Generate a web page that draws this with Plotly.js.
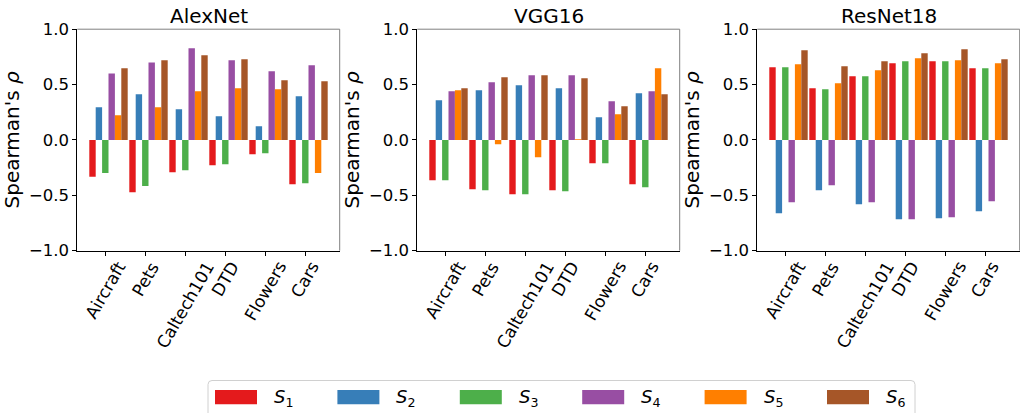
<!DOCTYPE html>
<html>
<head>
<meta charset="utf-8">
<script src="https://cdn.plot.ly/plotly-3.0.1.min.js"></script>
<style>html,body{margin:0;padding:0;background:#fff;}#chart{width:1020px;height:413px;}</style>
</head>
<body>
<div id="chart"></div>
<script>
// ---- data ----
const categories = ['Aircraft', 'Pets', 'Caltech101', 'DTD', 'Flowers', 'Cars'];
const seriesNames = ['S1', 'S2', 'S3', 'S4', 'S5', 'S6'];
const panelTitles = ['AlexNet', 'VGG16', 'ResNet18'];

const alexS1 = [-0.334, -0.473, -0.292, -0.229, -0.130, -0.400];
const alexS2 = [0.295, 0.413, 0.277, 0.214, 0.123, 0.395];
const alexS3 = [-0.300, -0.416, -0.274, -0.220, -0.120, -0.392];
const alexS4 = [0.600, 0.700, 0.828, 0.720, 0.620, 0.675];
const alexS5 = [0.223, 0.295, 0.440, 0.467, 0.458, -0.300];
const alexS6 = [0.648, 0.720, 0.765, 0.729, 0.539, 0.530];

const vggS1 = [-0.364, -0.446, -0.491, -0.455, -0.210, -0.400];
const vggS2 = [0.358, 0.449, 0.494, 0.467, 0.205, 0.422];
const vggS3 = [-0.364, -0.455, -0.491, -0.464, -0.210, -0.428];
const vggS4 = [0.440, 0.521, 0.584, 0.584, 0.349, 0.440];
const vggS5 = [0.449, -0.039, -0.157, 0.006, 0.232, 0.648];
const vggS6 = [0.467, 0.566, 0.584, 0.557, 0.304, 0.413];

const resS1 = [0.657, 0.467, 0.575, 0.693, 0.711, 0.648];
const resS2 = [-0.663, -0.455, -0.581, -0.717, -0.708, -0.645];
const resS3 = [0.657, 0.458, 0.575, 0.711, 0.711, 0.648];
const resS4 = [-0.563, -0.410, -0.563, -0.717, -0.699, -0.554];
const resS5 = [0.684, 0.512, 0.630, 0.738, 0.720, 0.693];
const resS6 = [0.810, 0.666, 0.711, 0.783, 0.819, 0.729];

const yTickVals = [-1.0, -0.5, 0.0, 0.5, 1.0];

// ---- style ----
const colors = ['#e41a1c', '#377eb8', '#4daf4a', '#984ea3', '#ff7f00', '#a65628'];
const FONT = 'DejaVu Sans';
const W = 1020, H = 413;
const px = v => v / W;
const py = v => 1 - v / H;
const barW = 0.16;
const panelLeft = [77.3, 417.3, 757.3];
const panelWidth = 262.4;
const plotTop = 29.2, plotBottom = 250.6;

const panels = [
  [alexS1, alexS2, alexS3, alexS4, alexS5, alexS6],
  [vggS1, vggS2, vggS3, vggS4, vggS5, vggS6],
  [resS1, resS2, resS3, resS4, resS5, resS6]
];

const traces = [];
const layout = {
  width: W, height: H,
  margin: {l: 0, r: 0, t: 0, b: 0},
  paper_bgcolor: '#fff', plot_bgcolor: '#fff',
  showlegend: false,
  font: {family: FONT, size: 16, color: '#000'},
  annotations: [], shapes: []
};

panels.forEach((series, p) => {
  const sfx = p === 0 ? '' : String(p + 1);
  series.forEach((vals, j) => {
    traces.push({
      type: 'bar', x: categories, y: vals, name: seriesNames[j],
      xaxis: 'x' + sfx, yaxis: 'y' + sfx,
      width: barW, offset: (j - 2.5) * barW,
      marker: {color: colors[j], line: {width: 0}},
      hoverinfo: 'x+y+name'
    });
  });
  const x0 = px(panelLeft[p]), x1 = px(panelLeft[p] + panelWidth);
  layout['xaxis' + sfx] = {
    domain: [x0, x1], anchor: 'y' + sfx,
    type: 'category', range: [-0.70, 5.86],
    showgrid: false, zeroline: false,
    showline: true, linecolor: '#000', linewidth: 1,
    ticks: 'outside', ticklen: 4, tickwidth: 1, tickcolor: '#000',
    showticklabels: false, fixedrange: true
  };
  layout['yaxis' + sfx] = {
    domain: [py(plotBottom), py(plotTop)], anchor: 'x' + sfx,
    range: [-1, 1], tickvals: yTickVals, tickformat: '.1f',
    showgrid: false, zeroline: false,
    showline: true, linecolor: '#000', linewidth: 1,
    ticks: 'outside', ticklen: 4, tickwidth: 1, tickcolor: '#000',
    tickfont: {family: FONT, size: 16.5, color: '#000'},
    title: {text: "Spearman's <i>ρ</i>", font: {family: FONT, size: 20, color: '#000'}, standoff: 3},
    fixedrange: true
  };
  // top/right spines
  layout.shapes.push({type: 'line', xref: 'paper', yref: 'paper', x0: x0, x1: x1, y0: py(plotTop), y1: py(plotTop), line: {color: '#808080', width: 1}});
  layout.shapes.push({type: 'line', xref: 'paper', yref: 'paper', x0: x1, x1: x1, y0: py(plotBottom), y1: py(plotTop), line: {color: '#808080', width: 1}});
  // title
  layout.annotations.push({
    xref: 'paper', yref: 'paper', x: (x0 + x1) / 2, y: py(plotTop + 1), xanchor: 'center', yanchor: 'bottom',
    text: panelTitles[p], showarrow: false, font: {family: FONT, size: 20, color: '#000'}
  });
  // rotated category labels centred below ticks
  categories.forEach(c => {
    layout.annotations.push({
      xref: 'x' + sfx, yref: 'paper', x: c, y: py(plotBottom + 6),
      xanchor: 'center', yanchor: 'top', textangle: -60,
      text: c, showarrow: false, borderpad: 0,
      font: {family: FONT, size: 17, color: '#000'}
    });
  });
});

// ---- legend (drawn manually to match the wide patches) ----
const legL = 208, legR = 915, legT = 380.5, legB = 420, rr = 4;
layout.shapes.push({
  type: 'path', xref: 'paper', yref: 'paper',
  path: `M ${px(legL + rr)} ${py(legT)} L ${px(legR - rr)} ${py(legT)} Q ${px(legR)} ${py(legT)} ${px(legR)} ${py(legT + rr)} L ${px(legR)} ${py(legB)} L ${px(legL)} ${py(legB)} L ${px(legL)} ${py(legT + rr)} Q ${px(legL)} ${py(legT)} ${px(legL + rr)} ${py(legT)} Z`,
  line: {color: '#d0d0d0', width: 1}, fillcolor: 'rgba(255,255,255,0.8)'
});
seriesNames.forEach((nm, j) => {
  const xl = 215 + 122.4 * j;
  layout.shapes.push({
    type: 'rect', xref: 'paper', yref: 'paper',
    x0: px(xl), x1: px(xl + 42), y0: py(404.3), y1: py(390),
    line: {width: 0}, fillcolor: colors[j]
  });
  layout.annotations.push({
    xref: 'paper', yref: 'paper', x: px(xl + 57), y: py(398), xanchor: 'left', yanchor: 'middle',
    text: '<i>S</i><sub>' + nm.slice(1) + '</sub>', showarrow: false,
    font: {family: FONT, size: 18, color: '#000'}
  });
});

Plotly.newPlot('chart', traces, layout, {displayModeBar: false, staticPlot: true});
</script>
</body>
</html>
